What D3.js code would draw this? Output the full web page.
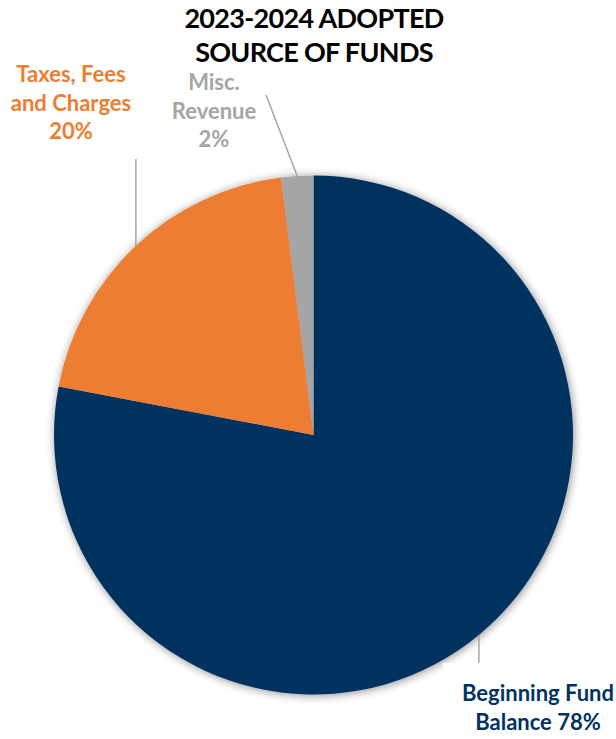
<!DOCTYPE html>
<meta charset="utf-8">
<script src="https://d3js.org/d3.v7.min.js"></script>
<style>
  body { margin: 0; background: #fff; }
  text { font-family: Lato, "Open Sans", sans-serif; font-weight: bold; }
</style>
<div id="chart"></div>
<script>

// data
var labels = ["Beginning Fund Balance", "Taxes, Fees and Charges", "Misc. Revenue"];
var values = [78, 20, 2];
var colors = ["#003361", "#ED7D31", "#A5A5A5"];
var titleLines = ["2023-2024 ADOPTED", "SOURCE OF FUNDS"];

var width = 616, height = 739;
var cx = 313.5, cy = 435, radius = 259.5;

var svg = d3.select("#chart").append("svg")
    .attr("width", width)
    .attr("height", height);

// soft shadow round the pie
var defs = svg.append("defs");
var f = defs.append("filter").attr("id", "shadow")
    .attr("x", "-10%").attr("y", "-10%").attr("width", "120%").attr("height", "120%");
f.append("feGaussianBlur").attr("in", "SourceAlpha").attr("stdDeviation", 5);
f.append("feOffset").attr("dx", 1).attr("dy", 1);
f.append("feComponentTransfer").append("feFuncA").attr("type", "linear").attr("slope", 0.45);
var m = f.append("feMerge");
m.append("feMergeNode");
m.append("feMergeNode").attr("in", "SourceGraphic");

var pie = d3.pie().sort(null).value(function(d) { return d; });
var arcs = pie(values);
var arc = d3.arc().innerRadius(0).outerRadius(radius);

var g = svg.append("g").attr("transform", "translate(" + cx + "," + cy + ")");

g.append("g").attr("filter", "url(#shadow)")
  .selectAll("path")
  .data(arcs)
  .enter().append("path")
    .attr("d", arc)
    .attr("fill", function(d, i) { return colors[i]; });

// point on the rim at the middle of a slice
function rim(d) {
  var a = (d.startAngle + d.endAngle) / 2;
  return [cx + radius * Math.sin(a), cy - radius * Math.cos(a)];
}

// label settings (layout only)
var labelLayout = [
  { lines: ["Beginning Fund", "Balance 78%"], x: 538, y: 701, lineEnd: 663 },
  { lines: ["Taxes, Fees", "and Charges", "20%"], x: 71, y: 82, lineStart: 159 },
  { lines: ["Misc.", "Revenue", "2%"], x: 214, y: 90, lineStart: [266, 95] }
];

// leader lines
arcs.forEach(function(d, i) {
  var p = rim(d), L = labelLayout[i], x1, y1;
  if (i === 0) { x1 = p[0]; y1 = L.lineEnd; }
  else if (i === 1) { x1 = p[0]; y1 = L.lineStart; }
  else { x1 = L.lineStart[0]; y1 = L.lineStart[1]; }
  svg.append("line")
    .attr("x1", x1).attr("y1", y1)
    .attr("x2", p[0]).attr("y2", p[1])
    .attr("stroke", "#A6A6A6")
    .attr("stroke-width", 1.5);
});

// white box behind the bottom label
svg.append("rect")
  .attr("x", 443).attr("y", 663)
  .attr("width", width - 443).attr("height", height - 663)
  .attr("fill", "#fff");

labelLayout.forEach(function(L, i) {
  var t = svg.append("text")
    .attr("text-anchor", "middle")
    .attr("fill", colors[i])
    .style("font-size", "22px");
  L.lines.forEach(function(s, j) {
    t.append("tspan").attr("x", L.x).attr("y", L.y + j * 28.5).text(s);
  });
});

// title
var title = svg.append("text")
  .attr("text-anchor", "middle")
  .attr("fill", "#000")
  .style("font-size", "27px")
  .style("letter-spacing", "-0.7px");
titleLines.forEach(function(s, j) {
  title.append("tspan").attr("x", 314).attr("y", 28 + j * 34).text(s);
});

</script>
